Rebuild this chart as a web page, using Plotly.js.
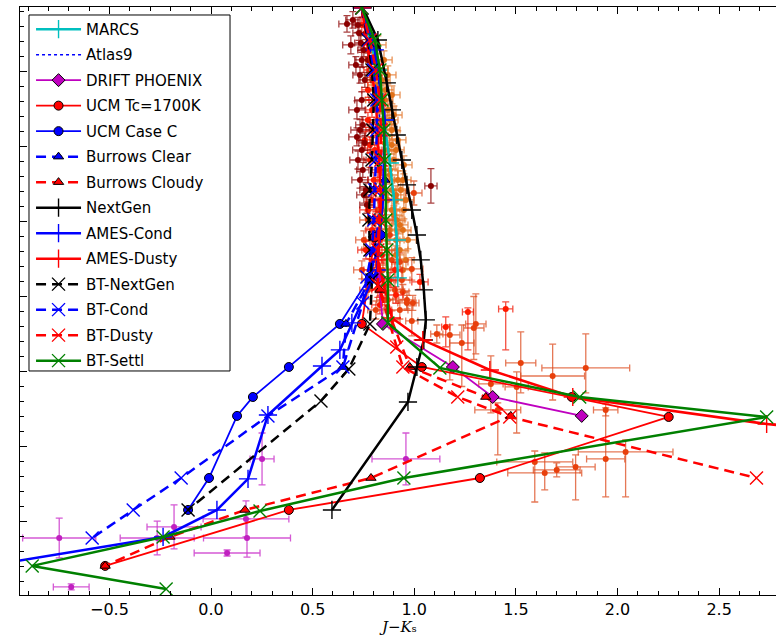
<!DOCTYPE html>
<html><head><meta charset="utf-8">
<script src="https://cdn.plot.ly/plotly-3.0.1.min.js"></script>
<style>html,body{margin:0;padding:0;background:#fff}#chart{width:776px;height:635px}</style>
</head><body><div id="chart"></div>
<script>
// ---- model tracks (x = J-Ks, y = Teff) ----
const marcsX = [0.742,0.821,0.851,0.880,0.900,0.914,0.919];
const marcsT = [4427,4013,3680,3393,3147,2880,2627];
const atlasX = [0.742,0.792,0.831];
const atlasT = [4427,4080,3680];
const driftX = [0.806,0.826,0.846,1.190,1.386,1.824];
const driftT = [2900,2633,2320,2033,1833,1707];
const ucm1700X = [0.806,0.742,1.037,1.775,2.252,1.323,0.383,-0.521];
const ucm1700T = [2900,2320,2033,1833,1700,1293,1080,707];
const ucmCX = [0.836,0.782,0.634,0.383,0.206,0.128,-0.010,-0.113];
const ucmCT = [2913,2633,2320,2033,1833,1707,1293,1080];
const burClearX = [0.855,0.782,0.664,0.649];
const burClearT = [3280,2613,2320,2033];
const burCloudyX = [0.831,0.978,1.352,1.475,0.787,0.167,-0.202,-0.521];
const burCloudyT = [2547,2033,1833,1707,1293,1080,900,707];
const nextgenX = [0.747,0.821,0.865,0.890,0.914,0.939,0.964,0.988,1.013,1.032,1.047,1.057,1.047,1.013,0.969,0.595];
const nextgenT = [4427,4213,3927,3747,3580,3413,3247,3080,2913,2747,2547,2347,2213,2033,1800,1080];
const amesCondX = [0.742,0.806,0.855,0.846,0.816,0.693,0.634,0.546,0.280,0.182,0.029,-0.236,-1.013];
const amesCondT = [4427,4147,3680,3147,2680,2327,2147,2040,1713,1287,1080,900,727];
const amesDustyX = [0.742,0.811,0.836,0.821,0.890,1.042,1.372,1.780,2.734,2.896];
const amesDustyT = [4427,3813,3147,2747,2360,2213,2013,1833,1653,1627];
const btNextGenX = [0.742,0.772,0.792,0.801,0.796,0.792,0.782,0.777,0.782,0.792,0.782,0.678,0.541,-0.113];
const btNextGenT = [4427,4213,4013,3813,3613,3413,3213,3013,2813,2613,2320,2020,1807,1080];
const btCondX = [0.742,0.777,0.801,0.816,0.816,0.811,0.806,0.801,0.792,0.767,0.747,0.649,0.280,-0.147,-0.383,-0.585];
const btCondT = [4427,4213,4013,3813,3613,3413,3213,3013,2813,2633,2460,2033,1707,1293,1080,893];
const btDustyX = [0.742,0.782,0.811,0.831,0.836,0.836,0.831,0.826,0.821,0.821,0.914,0.944,1.214,1.470,2.684];
const btDustyT = [4427,4213,4013,3813,3613,3413,3213,3013,2813,2580,2167,2033,1833,1700,1293];
const btSettlX = [0.742,0.806,0.831,0.841,0.851,0.855,0.860,0.860,0.865,0.870,0.870,1.126,1.814,2.734,0.949,0.241,-0.236,-0.880,-0.221];
const btSettlT = [4427,4213,4013,3813,3613,3413,3213,3013,2813,2613,2327,2027,1833,1700,1293,1073,900,707,553];

// ---- observed objects ----
const drX = [0.698,0.723,0.728,0.762,0.737,0.752,0.742,0.772,0.757,0.742,0.733,0.718,0.757,0.742,0.747,0.733,0.762,1.082,
  0.669,0.688,0.713,0.733,0.718,0.747,0.723,0.752,0.767];
const drT = [4347,4313,4260,4260,4193,4147,4080,4080,3947,3813,3613,3567,3527,3480,3347,3280,3213,3240,
  4320,4180,4047,3980,3747,3647,3413,3180,3113];
const drEx = [0.035,0.03,0.03,0.025,0.03,0.03,0.035,0.025,0.03,0.035,0.045,0.04,0.03,0.045,0.03,0.04,0.03,0.03,
  0.04,0.04,0.035,0.035,0.04,0.035,0.04,0.035,0.035];
const drEt = [55,50,50,45,50,45,50,45,50,55,70,60,50,60,50,55,50,115,
  55,60,55,55,60,55,60,55,55];

const rX = [0.742,0.772,0.782,0.772,0.792,0.772,0.792,0.806,0.782,0.821,0.801,0.792,0.792,0.831,0.811,0.905,0.880,0.821,1.028,1.155,1.264,1.450,
  0.757,0.782,0.811,0.772,0.811,0.762,0.841,0.792,0.851,0.910,0.831];
const rT = [4313,4147,4013,3880,3747,3680,3613,3480,3413,3347,3280,3147,2947,2880,2747,2680,2613,2547,2600,2300,2400,2420,
  3547,3513,3213,3080,3013,2813,2780,2680,2580,2513,2447];
const rEx = [0.03,0.03,0.03,0.03,0.03,0.03,0.03,0.035,0.03,0.03,0.03,0.03,0.03,0.035,0.03,0.035,0.03,0.03,0.04,0.02,0.027,0.035,
  0.04,0.035,0.04,0.04,0.035,0.04,0.035,0.04,0.035,0.035,0.04];
const rEtUp = [50,50,50,50,50,50,50,50,50,50,50,50,50,50,50,50,50,50,50,67,27,47,
  55,55,60,55,55,60,55,60,55,55,60];
const rEtDn = [50,50,50,50,50,50,50,50,50,50,50,50,50,50,50,50,50,50,50,133,253,273,
  55,55,60,55,55,60,55,60,55,55,60];

const orX = [0.772,0.855,0.821,0.752,0.782,0.865,0.890,0.742,0.846,0.782,0.939,0.905,0.855,0.964,
  0.801,0.880,0.821,0.929,0.772,0.870,0.811,0.929,0.890,
  0.988,0.964,0.993,0.988,0.944,0.998,1.175,1.234,1.293,1.303,1.111,1.524,1.681,1.844,1.377,1.504,1.411,1.942,
  1.593,1.642,1.701,1.794,1.942,2.040];
const orT = [3013,3013,3080,2880,2813,2813,2747,2680,2680,2613,2613,2547,2480,2480,
  2880,2913,2713,2733,2547,2480,2413,2413,2347,
  2687,2460,2460,2340,2533,3193,2247,2193,2293,2320,2253,2060,1973,2027,1920,1900,1747,1747,
  1400,1327,1347,1367,1420,1467];
const orEx = [0.04,0.04,0.04,0.04,0.04,0.04,0.04,0.04,0.04,0.04,0.04,0.04,0.04,0.04,
  0.04,0.04,0.04,0.04,0.04,0.04,0.04,0.04,0.04,
  0.055,0.045,0.03,0.03,0.03,0.04,0.05,0.06,0.05,0.05,0.03,0.074,0.157,0.216,0.06,0.057,0.113,0.06,
  0.187,0.182,0.115,0.096,0.094,0.233];
const orEtUp = [60,60,60,60,60,60,60,60,60,60,60,60,60,60,
  60,60,60,60,60,60,60,60,60,
  75,50,50,100,50,80,67,120,210,200,60,207,213,227,187,100,47,40,
  73,133,47,80,340,80];
const orEtDn = [60,60,60,60,60,60,60,60,60,60,60,60,60,60,
  60,60,60,60,60,60,60,60,60,
  75,50,50,100,50,80,300,290,210,200,60,200,160,167,193,307,300,40,
  267,113,47,220,253,300];

const oX = [0.782,0.792,0.801,0.806,0.831,0.792,0.841,0.821,0.860,0.801,0.855,0.831,0.870,0.821,0.880,0.846,0.890,0.855,0.870,0.910,0.851,0.900,0.880,0.860,0.919,0.890,0.934,0.870,0.910,0.890,0.949,0.914,0.880,0.944,0.910,0.929,0.959,
  0.821,0.851,0.870,0.811,0.890,0.841,0.900,0.860,0.919,0.831,0.890,0.949,0.880,0.944,0.910,0.959,0.900,0.929,0.969,0.910,0.944];
const oT = [4193,4147,4080,4013,4013,3947,3947,3880,3880,3813,3813,3747,3747,3680,3680,3613,3613,3527,3480,3480,3413,3413,3347,3280,3280,3213,3213,3147,3147,3080,3080,3013,2947,2947,2880,2813,2747,
  4180,4080,3980,3913,3847,3780,3713,3647,3547,3580,3513,3380,3313,3280,3180,3147,3047,2980,2880,2780,2680];
const oEx = 0.04;
const oEt = 60;

const mX = [-0.747,-0.182,-0.265,0.251,0.172,0.177,0.079,-0.688,0.959];
const mT = [893,967,893,1420,1020,893,793,567,1420];
const mEx = [0.18,0.133,0.182,0.059,0.211,0.214,0.162,0.088,0.167];
const mEt = [133,147,113,173,120,127,20,20,173];

const xTitle = '<i>J</i>\u2212<i>K</i>\u209B';

function obs(x, y, ex, eup, edn, color, errColor) {
  const arr = v => Array.isArray(v) ? v : x.map(() => v);
  return {
    type: 'scatter', mode: 'markers', x: x, y: y, showlegend: false, hoverinfo: 'skip',
    marker: {size: 6, color: color},
    error_x: {type: 'data', array: arr(ex), color: errColor, thickness: 1.3, width: 3.5},
    error_y: {type: 'data', symmetric: false, array: arr(eup), arrayminus: arr(edn), color: errColor, thickness: 1.3, width: 3.5}
  };
}

const data = [
  obs(oX, oT, oEx, oEt, oEt, '#e07018', 'rgba(225,110,30,0.75)'),
  obs(orX, orT, orEx, orEtUp, orEtDn, '#e8400c', 'rgba(220,75,30,0.75)'),
  obs(rX, rT, rEx, rEtUp, rEtDn, '#ff1a00', 'rgba(240,20,0,0.75)'),
  obs(drX, drT, drEx, drEt, drEt, '#8b0000', 'rgba(139,0,0,0.75)'),
  obs(mX, mT, mEx, mEt, mEt, '#c020c0', 'rgba(205,60,205,0.85)')
];

let rank = 1;
function model(name, x, y, color, opt) {
  const tr = {
    type: 'scatter', name: name, x: x, y: y, legendgroup: name, legendrank: rank++,
    mode: opt.symbol ? 'lines+markers' : 'lines',
    line: {color: color, width: opt.width || 2.5, dash: opt.dash || 'solid'},
    hoverinfo: 'name'
  };
  if (opt.symbol) {
    const thin = opt.symbol.indexOf('thin') >= 0;
    tr.marker = {symbol: opt.symbol, size: opt.size || 9, color: color,
      line: {color: thin ? color : 'black', width: thin ? 1.4 : 1}};
  }
  return tr;
}

const DASH = '10px,6px';
data.push(
  model('MARCS', marcsX, marcsT, '#00bfbf', {symbol: 'cross-thin', size: 13}),
  model('Atlas9', atlasX, atlasT, '#0000ff', {dash: 'dot', width: 1.5}),
  model('DRIFT PHOENIX', driftX, driftT, '#bf00bf', {symbol: 'diamond', size: 10, width: 1.8}),
  model('UCM Tc=1700K', ucm1700X, ucm1700T, '#ff0000', {symbol: 'circle', size: 9, width: 1.8}),
  model('UCM Case C', ucmCX, ucmCT, '#0000ff', {symbol: 'circle', size: 9, width: 1.8}),
  model('Burrows Clear', burClearX, burClearT, '#0000ff', {symbol: 'triangle-up', size: 9, dash: DASH}),
  model('Burrows Cloudy', burCloudyX, burCloudyT, '#ff0000', {symbol: 'triangle-up', size: 9, dash: DASH}),
  model('NextGen', nextgenX, nextgenT, '#000000', {symbol: 'cross-thin', size: 13}),
  model('AMES-Cond', amesCondX, amesCondT, '#0000ff', {symbol: 'cross-thin', size: 13}),
  model('AMES-Dusty', amesDustyX, amesDustyT, '#ff0000', {symbol: 'cross-thin', size: 13}),
  model('BT-NextGen', btNextGenX, btNextGenT, '#000000', {symbol: 'x-thin', size: 13, dash: DASH}),
  model('BT-Cond', btCondX, btCondT, '#0000ff', {symbol: 'x-thin', size: 13, dash: DASH}),
  model('BT-Dusty', btDustyX, btDustyT, '#ff0000', {symbol: 'x-thin', size: 13, dash: DASH}),
  model('BT-Settl', btSettlX, btSettlT, '#008000', {symbol: 'x-thin', size: 13})
);

const tickFont = {family: 'DejaVu Sans', size: 16, color: 'black'};
const layout = {
  width: 776, height: 635,
  margin: {l: 20, r: 0, t: 7, b: 40, pad: 0},
  paper_bgcolor: 'white', plot_bgcolor: 'white',
  showlegend: true,
  legend: {x: 0.0146, y: 0.990, xanchor: 'left', yanchor: 'top', bgcolor: 'rgba(0,0,0,0)',
    borderwidth: 0, font: {family: 'DejaVu Sans', size: 15, color: 'black'},
    tracegroupgap: 3, itemwidth: 45},
  shapes: [{type: 'rect', xref: 'paper', yref: 'paper', x0: 0.0119, x1: 0.2778, y0: 0.381, y1: 0.9864,
    fillcolor: 'white', line: {color: 'black', width: 1}, layer: 'above'}],
  annotations: [{text: xTitle, xref: 'paper', yref: 'paper', x: 0.5, y: -0.0545,
    xanchor: 'center', yanchor: 'middle', showarrow: false, borderpad: 0,
    font: {family: 'DejaVu Serif', size: 15, color: 'black'}}],
  xaxis: {range: [-0.94, 2.78], showgrid: false, zeroline: false, showline: true, linecolor: 'black',
    linewidth: 1.2, mirror: 'ticks', ticks: 'inside', ticklen: 7, tickwidth: 1, tickcolor: 'black',
    tick0: 0, dtick: 0.5, tickformat: '.1f', tickfont: tickFont, automargin: false,
    minor: {dtick: 0.1, ticks: 'inside', ticklen: 4, tickcolor: 'black', tickwidth: 1}},
  yaxis: {range: [513, 4433], showgrid: false, zeroline: false, showline: true, linecolor: 'black',
    linewidth: 1.2, mirror: false, ticks: 'inside', ticklen: 7, tickwidth: 1, tickcolor: 'black',
    tick0: 0, dtick: 500, showticklabels: false, automargin: false,
    minor: {dtick: 100, ticks: 'inside', ticklen: 4, tickcolor: 'black', tickwidth: 1}}
};

Plotly.newPlot('chart', data, layout, {displayModeBar: false, staticPlot: true});
</script></body></html>
